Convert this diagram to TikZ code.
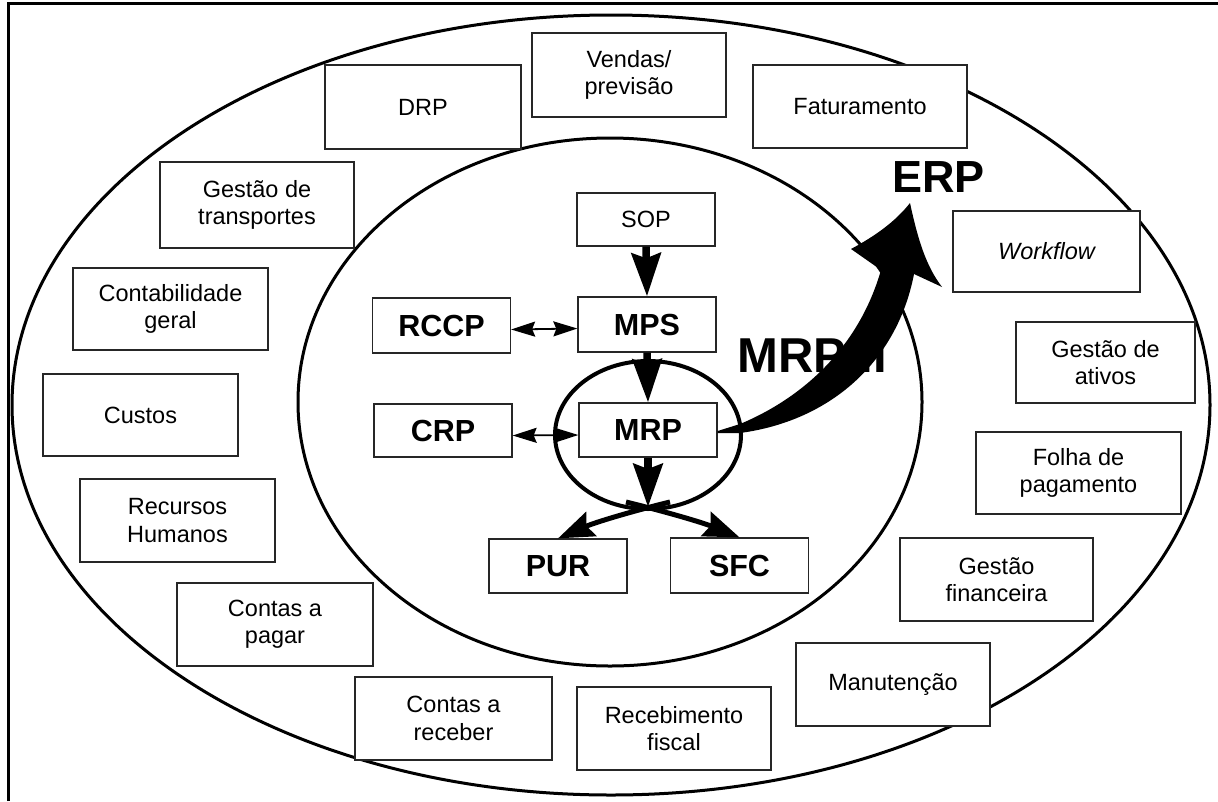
\documentclass[tikz,border=0pt]{standalone}
\usepackage{fontspec}
\setmainfont{Liberation Sans}
\usetikzlibrary{arrows.meta}
\begin{document}
\begin{tikzpicture}[x=1pt,y=-1pt,
  box/.style={draw=black!85, line width=1.3pt, fill=white, inner sep=0pt, align=center,
    font=\fontsize{23.5}{27.3}\selectfont},
  inbox/.style={draw=black!85, line width=1.3pt, fill=white, inner sep=0pt,
    minimum width=138pt, minimum height=54pt, font=\bfseries\fontsize{30.5}{34}\selectfont},
  ring/.style={line width=3pt},
  bigarrow/.style={line width=7.5pt, -{Stealth[length=43pt,width=29pt,inset=5pt]}},
  splitarrow/.style={line width=5pt, -{Stealth[length=36pt,width=26pt,inset=5pt]}},
  dblarrow/.style={line width=1.8pt, {Stealth[length=24pt,width=15pt,inset=3pt]}-{Stealth[length=24pt,width=15pt,inset=3pt]}},
  bigtext/.style={anchor=base west, inner sep=0pt}
]
\useasboundingbox (0,0) rectangle (1218,801);
\fill[white] (0,0) rectangle (1218,801);
% frame
\draw[line width=3pt] (8,801) -- (8,3.5) -- (1218,3.5);
% ellipses
\draw[ring] (611,405) ellipse [x radius=599pt, y radius=390pt];
\draw[ring] (610,402) ellipse [x radius=312pt, y radius=264pt];
\draw[line width=4pt] (648,435) ellipse [x radius=93pt, y radius=74pt];

% outer boxes
\node[box, minimum width=196pt, minimum height=84pt] (drp) at (423,107) {DRP};
\node[box, minimum width=194pt, minimum height=84pt] (vendas) at (629,75) {Vendas/\\previsão};
\node[box, minimum width=214pt, minimum height=83pt] (fat) at (860,106.5) {Faturamento};
\node[box, minimum width=194pt, minimum height=86pt] (transp) at (257,205) {Gestão de\\transportes};
\node[box, minimum width=195pt, minimum height=82pt] (contab) at (170.5,309) {Contabilidade\\geral};
\node[box, minimum width=195pt, minimum height=82pt] (custos) at (140.5,415) {Custos};
\node[box, minimum width=195pt, minimum height=83pt] (rh) at (177.5,520.5) {Recursos\\Humanos};
\node[box, minimum width=196pt, minimum height=83pt] (pagar) at (275,624.5) {Contas a\\pagar};
\node[box, minimum width=197pt, minimum height=83pt] (receber) at (453.5,718.5) {Contas a\\receber};
\node[box, minimum width=194pt, minimum height=83pt] (fiscal) at (674,728.5) {Recebimento\\fiscal};
\node[box, minimum width=194pt, minimum height=83pt] (manut) at (893,684.5) {Manutenção};
\node[box, minimum width=193pt, minimum height=83pt] (fin) at (996.5,579.5) {Gestão\\financeira};
\node[box, minimum width=205pt, minimum height=82pt] (folha) at (1078.5,473) {Folha de\\pagamento};
\node[box, minimum width=179pt, minimum height=81pt] (ativos) at (1105.5,362.5) {Gestão de\\ativos};
\node[box, minimum width=187pt, minimum height=81pt] (workflow) at (1046.5,251.5) {\itshape Workflow};

% inner boxes
\node[inbox, font=\fontsize{23.5}{27.3}\selectfont, minimum height=53pt] (sop) at (646,219.5) {SOP};
\node[inbox, minimum height=55pt] (rccp) at (441.5,325.5) {RCCP};
\node[inbox, minimum height=55pt] (mps) at (647,324.5) {MPS};
\node[inbox, minimum height=53pt] (crp) at (443,430.5) {CRP};
\node[inbox] (mrp) at (648,430) {MRP};
\node[inbox] (pur) at (558,566) {PUR};
\node[inbox, minimum height=55pt] (sfc) at (739.5,565.5) {SFC};

% arrows
\draw[bigarrow] (sop.south) -- (mps.north);
\draw[bigarrow] (mps.south) -- (mrp.north);
\coordinate (cross) at (648,507);
\draw[bigarrow] (mrp.south) -- (cross);
\coordinate (xl) at (670,502);
\coordinate (xr) at (626,502);
\draw[splitarrow] (xl) .. controls (633,511) and (596,522) .. (pur.north);
\draw[splitarrow] (xr) .. controls (663,511) and (701,522) .. (sfc.north);
\draw[dblarrow] ([yshift=-4pt]rccp.east) -- ([yshift=-4pt]mps.west);
\draw[dblarrow] ([yshift=-5pt]crp.east) -- ([yshift=-5pt]mrp.west);

% labels
\node[bigtext, font=\bfseries\fontsize{49}{50}\selectfont] (mrpii) at (737,372) {MRP II};
\node[bigtext, font=\bfseries\fontsize{45}{46}\selectfont] (erp) at (892,192) {ERP};

% big curved arrow MRP -> ERP
\coordinate (erptip) at (910,203);
\fill ([yshift=-1pt]mrp.east) -- (740,424) .. controls (800,399) and (858,350) .. (881,270)
  -- (851,249) .. controls (875,236) and (895,222) .. (erptip)
  .. controls (918,240) and (926,266) .. (942,287)
  -- (914,274) .. controls (897,362) and (830,421) .. (740,433)
  -- ([yshift=-3pt]mrp.east) -- cycle;
\end{tikzpicture}
\end{document}
